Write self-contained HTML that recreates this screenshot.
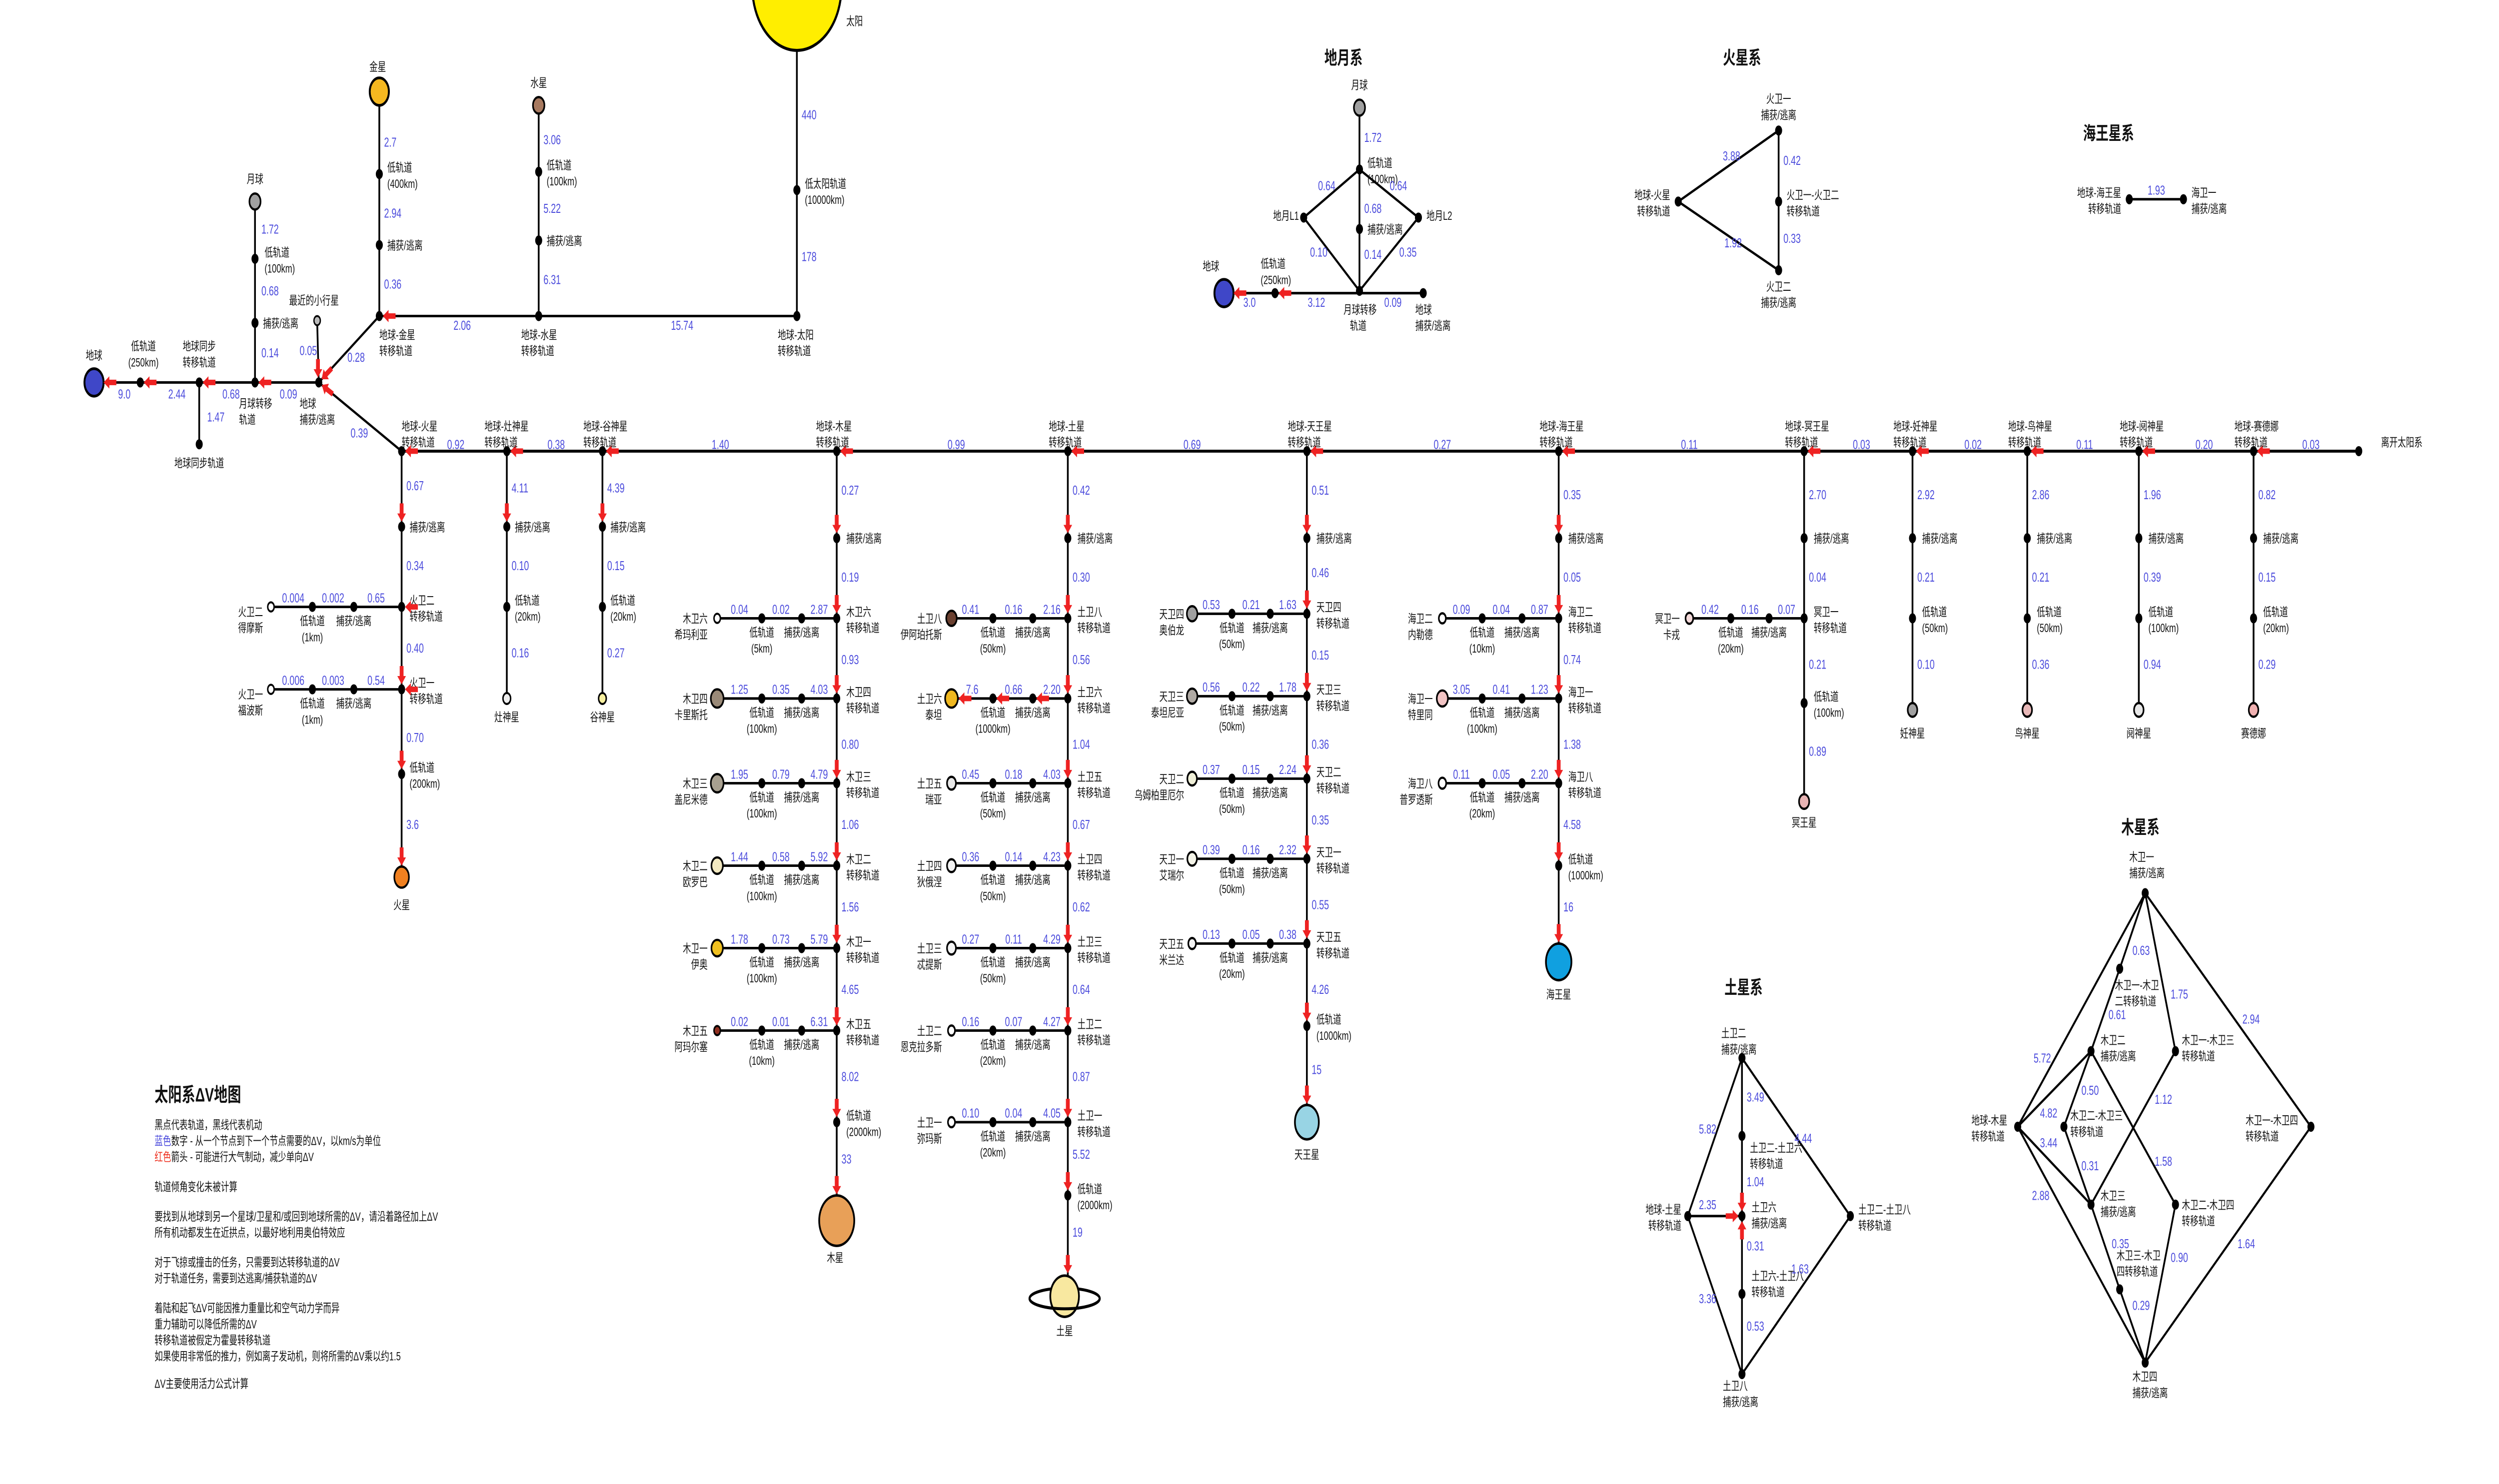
<!DOCTYPE html>
<html><head><meta charset="utf-8">
<style>
html,body{margin:0;padding:0;background:#fff;overflow:hidden;width:100%;height:100%;}
svg{display:block;width:100vw;height:100vh;}
text{font-family:"Liberation Sans","Noto Sans CJK SC",sans-serif;font-size:5.2px;fill:#111;}
.n{fill:#4b4bdc;font-size:5.6px;}
.m{text-anchor:middle;}
.e{text-anchor:end;}
.h{font-size:8px;font-weight:bold;}
line,polyline{stroke:#000;stroke-width:1.1;fill:none;}
.d{fill:#000;}
</style></head><body>
<svg viewBox="0 0 1568 648" preserveAspectRatio="none" xmlns="http://www.w3.org/2000/svg">
<defs>
<polygon id="a" points="0,0 3.6,-2.7 3.6,-1.2 8,-1.2 8,1.2 3.6,1.2 3.6,2.7" fill="#ee2222"/>
</defs>

<!-- ============ EARTH AREA ============ -->
<line x1="59" y1="167" x2="200" y2="167"/>
<line x1="125" y1="167" x2="125" y2="194"/>
<line x1="160" y1="88" x2="160" y2="167"/>
<line x1="199" y1="140" x2="200" y2="167"/>
<line x1="200" y1="167" x2="238" y2="138"/>
<line x1="200" y1="167" x2="252" y2="197"/>
<circle cx="59" cy="167" r="6" fill="#3f47c8" stroke="#000" stroke-width="1.2"/>
<text x="59" y="157" class="m">地球</text>
<circle cx="88" cy="167" r="2.2" class="d"/><circle cx="125" cy="167" r="2.2" class="d"/><circle cx="125" cy="194" r="2.2" class="d"/>
<circle cx="160" cy="167" r="2.2" class="d"/><circle cx="160" cy="141" r="2.2" class="d"/><circle cx="160" cy="113" r="2.2" class="d"/>
<circle cx="160" cy="88" r="3.5" fill="#a0a0a0" stroke="#000" stroke-width="1"/>
<circle cx="200" cy="167" r="2.2" class="d"/>
<circle cx="199" cy="140" r="2" fill="#bbb" stroke="#000" stroke-width="0.8"/>
<text x="90" y="153" class="m">低轨道</text><text x="90" y="160" class="m">(250km)</text>
<text x="125" y="153" class="m">地球同步</text><text x="125" y="160" class="m">转移轨道</text>
<text x="125" y="204" class="m">地球同步轨道</text>
<text x="150" y="178">月球转移</text><text x="150" y="185">轨道</text>
<text x="165" y="143">捕获/逃离</text>
<text x="166" y="112">低轨道</text><text x="166" y="119">(100km)</text>
<text x="160" y="80" class="m">月球</text>
<text x="197" y="133" class="m">最近的小行星</text>
<text x="188" y="178">地球</text><text x="188" y="185">捕获/逃离</text>
<text x="78" y="174" class="n m">9.0</text><text x="111" y="174" class="n m">2.44</text><text x="145" y="174" class="n m">0.68</text>
<text x="181" y="174" class="n m">0.09</text><text x="130" y="184" class="n">1.47</text>
<text x="164" y="102" class="n">1.72</text><text x="164" y="129" class="n">0.68</text><text x="164" y="156" class="n">0.14</text>
<text x="188" y="155" class="n">0.05</text><text x="218" y="158" class="n">0.28</text><text x="220" y="191" class="n">0.39</text>
<use href="#a" transform="translate(65,167)"/><use href="#a" transform="translate(90.2,167)"/><use href="#a" transform="translate(127.2,167)"/>
<use href="#a" transform="translate(162.2,167)"/><use href="#a" transform="translate(199.5,164.8) rotate(-90)"/>
<use href="#a" transform="translate(201.8,165.6) rotate(-37)"/><use href="#a" transform="translate(201.9,168.1) rotate(30)"/>

<!-- Venus -->
<line x1="238" y1="40" x2="238" y2="138"/>
<line x1="238" y1="138" x2="500" y2="138"/>
<circle cx="238" cy="40" r="6" fill="#f5b820" stroke="#000" stroke-width="1.2"/>
<text x="237" y="31" class="m">金星</text>
<circle cx="238" cy="76" r="2.2" class="d"/><circle cx="238" cy="107" r="2.2" class="d"/><circle cx="238" cy="138" r="2.2" class="d"/>
<text x="243" y="75">低轨道</text><text x="243" y="82">(400km)</text><text x="243" y="109">捕获/逃离</text>
<text x="238" y="148">地球-金星</text><text x="238" y="155">转移轨道</text>
<text x="241" y="64" class="n">2.7</text><text x="241" y="95" class="n">2.94</text><text x="241" y="126" class="n">0.36</text>
<use href="#a" transform="translate(240.2,138)"/>
<!-- Mercury -->
<line x1="338" y1="46" x2="338" y2="138"/>
<circle cx="338" cy="46" r="3.6" fill="#a87a60" stroke="#000" stroke-width="1"/>
<text x="338" y="38" class="m">水星</text>
<circle cx="338" cy="75" r="2.2" class="d"/><circle cx="338" cy="105" r="2.2" class="d"/><circle cx="338" cy="138" r="2.2" class="d"/>
<text x="343" y="74">低轨道</text><text x="343" y="81">(100km)</text><text x="343" y="107">捕获/逃离</text>
<text x="327" y="148">地球-水星</text><text x="327" y="155">转移轨道</text>
<text x="341" y="63" class="n">3.06</text><text x="341" y="93" class="n">5.22</text><text x="341" y="124" class="n">6.31</text>
<text x="290" y="144" class="n m">2.06</text><text x="428" y="144" class="n m">15.74</text>
<!-- Sun -->
<line x1="500" y1="10" x2="500" y2="138"/>
<circle cx="500" cy="-6" r="28" fill="#ffee00" stroke="#000" stroke-width="1.3"/>
<text x="531" y="11">太阳</text>
<circle cx="500" cy="83" r="2.2" class="d"/><circle cx="500" cy="138" r="2.2" class="d"/>
<text x="505" y="82">低太阳轨道</text><text x="505" y="89">(10000km)</text>
<text x="488" y="148">地球-太阳</text><text x="488" y="155">转移轨道</text>
<text x="503" y="52" class="n">440</text><text x="503" y="114" class="n">178</text>

<!-- ============ MAIN LINE ============ -->
<line x1="252" y1="197" x2="1480" y2="197" style="stroke-width:1.3"/>
<g>
<circle cx="252" cy="197" r="2.2" class="d"/><circle cx="318" cy="197" r="2.2" class="d"/><circle cx="378" cy="197" r="2.2" class="d"/>
<circle cx="525" cy="197" r="2.2" class="d"/><circle cx="670" cy="197" r="2.2" class="d"/><circle cx="820" cy="197" r="2.2" class="d"/>
<circle cx="978" cy="197" r="2.2" class="d"/><circle cx="1132" cy="197" r="2.2" class="d"/><circle cx="1200" cy="197" r="2.2" class="d"/>
<circle cx="1272" cy="197" r="2.2" class="d"/><circle cx="1342" cy="197" r="2.2" class="d"/><circle cx="1414" cy="197" r="2.2" class="d"/>
<circle cx="1480" cy="197" r="2.2" class="d"/>
</g>
<g>
<use href="#a" transform="translate(254.2,197)"/><use href="#a" transform="translate(320.2,197)"/><use href="#a" transform="translate(380.2,197)"/>
<use href="#a" transform="translate(527.2,197)"/><use href="#a" transform="translate(672.2,197)"/><use href="#a" transform="translate(822.2,197)"/>
<use href="#a" transform="translate(980.2,197)"/><use href="#a" transform="translate(1134.2,197)"/><use href="#a" transform="translate(1202.2,197)"/>
<use href="#a" transform="translate(1274.2,197)"/><use href="#a" transform="translate(1344.2,197)"/><use href="#a" transform="translate(1416.2,197)"/>
</g>
<text x="252" y="188">地球-火星</text><text x="252" y="195">转移轨道</text>
<text x="304" y="188">地球-灶神星</text><text x="304" y="195">转移轨道</text>
<text x="366" y="188">地球-谷神星</text><text x="366" y="195">转移轨道</text>
<text x="512" y="188">地球-木星</text><text x="512" y="195">转移轨道</text>
<text x="658" y="188">地球-土星</text><text x="658" y="195">转移轨道</text>
<text x="808" y="188">地球-天王星</text><text x="808" y="195">转移轨道</text>
<text x="966" y="188">地球-海王星</text><text x="966" y="195">转移轨道</text>
<text x="1120" y="188">地球-冥王星</text><text x="1120" y="195">转移轨道</text>
<text x="1188" y="188">地球-妊神星</text><text x="1188" y="195">转移轨道</text>
<text x="1260" y="188">地球-鸟神星</text><text x="1260" y="195">转移轨道</text>
<text x="1330" y="188">地球-阋神星</text><text x="1330" y="195">转移轨道</text>
<text x="1402" y="188">地球-赛德娜</text><text x="1402" y="195">转移轨道</text>
<text x="1494" y="195">离开太阳系</text>
<text x="286" y="196" class="n m">0.92</text><text x="349" y="196" class="n m">0.38</text><text x="452" y="196" class="n m">1.40</text>
<text x="600" y="196" class="n m">0.99</text><text x="748" y="196" class="n m">0.69</text><text x="905" y="196" class="n m">0.27</text>
<text x="1060" y="196" class="n m">0.11</text><text x="1168" y="196" class="n m">0.03</text><text x="1238" y="196" class="n m">0.02</text>
<text x="1308" y="196" class="n m">0.11</text><text x="1383" y="196" class="n m">0.20</text><text x="1450" y="196" class="n m">0.03</text>

<!-- ============ MARS ============ -->
<line x1="252" y1="197" x2="252" y2="383"/>
<line x1="170" y1="265" x2="252" y2="265"/><line x1="170" y1="301" x2="252" y2="301"/>
<circle cx="252" cy="230" r="2.2" class="d"/><circle cx="252" cy="265" r="2.2" class="d"/><circle cx="252" cy="301" r="2.2" class="d"/><circle cx="252" cy="338" r="2.2" class="d"/>
<circle cx="252" cy="383" r="4.6" fill="#f08020" stroke="#000" stroke-width="1"/>
<text x="252" y="397" class="m">火星</text>
<text x="257" y="232">捕获/逃离</text>
<text x="257" y="264">火卫二</text><text x="257" y="271">转移轨道</text>
<text x="257" y="300">火卫一</text><text x="257" y="307">转移轨道</text>
<text x="257" y="337">低轨道</text><text x="257" y="344">(200km)</text>
<text x="255" y="214" class="n">0.67</text><text x="255" y="249" class="n">0.34</text><text x="255" y="285" class="n">0.40</text>
<text x="255" y="324" class="n">0.70</text><text x="255" y="362" class="n">3.6</text>
<use href="#a" transform="translate(252,227.8) rotate(-90)"/><use href="#a" transform="translate(252,298.8) rotate(-90)"/>
<use href="#a" transform="translate(252,335.8) rotate(-90)"/><use href="#a" transform="translate(252,378) rotate(-90)"/>
<use href="#a" transform="translate(254.2,265)"/><use href="#a" transform="translate(254.2,301)"/>
<circle cx="170" cy="265" r="2" fill="#fff" stroke="#000" stroke-width="0.9"/><circle cx="170" cy="301" r="2" fill="#fff" stroke="#000" stroke-width="0.9"/>
<circle cx="196" cy="265" r="2.2" class="d"/><circle cx="222" cy="265" r="2.2" class="d"/><circle cx="196" cy="301" r="2.2" class="d"/><circle cx="222" cy="301" r="2.2" class="d"/>
<text x="165" y="269" class="e">火卫二</text><text x="165" y="276" class="e">得摩斯</text>
<text x="165" y="305" class="e">火卫一</text><text x="165" y="312" class="e">福波斯</text>
<text x="196" y="273" class="m">低轨道</text><text x="196" y="280" class="m">(1km)</text><text x="222" y="273" class="m">捕获/逃离</text>
<text x="196" y="309" class="m">低轨道</text><text x="196" y="316" class="m">(1km)</text><text x="222" y="309" class="m">捕获/逃离</text>
<text x="184" y="263" class="n m">0.004</text><text x="209" y="263" class="n m">0.002</text><text x="236" y="263" class="n m">0.65</text>
<text x="184" y="299" class="n m">0.006</text><text x="209" y="299" class="n m">0.003</text><text x="236" y="299" class="n m">0.54</text>

<!-- Vesta / Ceres -->
<line x1="318" y1="197" x2="318" y2="305"/><line x1="378" y1="197" x2="378" y2="305"/>
<circle cx="318" cy="230" r="2.2" class="d"/><circle cx="318" cy="265" r="2.2" class="d"/>
<circle cx="378" cy="230" r="2.2" class="d"/><circle cx="378" cy="265" r="2.2" class="d"/>
<circle cx="318" cy="305" r="2.4" fill="#eee" stroke="#000" stroke-width="0.9"/>
<circle cx="378" cy="305" r="2.4" fill="#f8f0a0" stroke="#000" stroke-width="0.9"/>
<use href="#a" transform="translate(318,227.8) rotate(-90)"/><use href="#a" transform="translate(378,227.8) rotate(-90)"/>
<text x="323" y="232">捕获/逃离</text><text x="323" y="264">低轨道</text><text x="323" y="271">(20km)</text>
<text x="383" y="232">捕获/逃离</text><text x="383" y="264">低轨道</text><text x="383" y="271">(20km)</text>
<text x="318" y="315" class="m">灶神星</text><text x="378" y="315" class="m">谷神星</text>
<text x="321" y="215" class="n">4.11</text><text x="321" y="249" class="n">0.10</text><text x="321" y="287" class="n">0.16</text>
<text x="381" y="215" class="n">4.39</text><text x="381" y="249" class="n">0.15</text><text x="381" y="287" class="n">0.27</text>

<!-- ============ JUPITER ============ -->
<line x1="525" y1="197" x2="525" y2="525"/>
<circle cx="525" cy="533" r="11" fill="#e8a058" stroke="#000" stroke-width="1.1"/>
<text x="524" y="551" class="m">木星</text>
<g>
<circle cx="525" cy="235" r="2.2" class="d"/><circle cx="525" cy="270" r="2.2" class="d"/><circle cx="525" cy="305" r="2.2" class="d"/>
<circle cx="525" cy="342" r="2.2" class="d"/><circle cx="525" cy="378" r="2.2" class="d"/><circle cx="525" cy="414" r="2.2" class="d"/>
<circle cx="525" cy="450" r="2.2" class="d"/><circle cx="525" cy="490" r="2.2" class="d"/>
</g>
<g>
<use href="#a" transform="translate(525,232.8) rotate(-90)"/><use href="#a" transform="translate(525,267.8) rotate(-90)"/><use href="#a" transform="translate(525,302.8) rotate(-90)"/>
<use href="#a" transform="translate(525,339.8) rotate(-90)"/><use href="#a" transform="translate(525,375.8) rotate(-90)"/><use href="#a" transform="translate(525,411.8) rotate(-90)"/>
<use href="#a" transform="translate(525,447.8) rotate(-90)"/><use href="#a" transform="translate(525,487.8) rotate(-90)"/><use href="#a" transform="translate(525,521.5) rotate(-90)"/>
</g>
<text x="531" y="237">捕获/逃离</text>
<text x="531" y="269">木卫六</text><text x="531" y="276">转移轨道</text>
<text x="531" y="304">木卫四</text><text x="531" y="311">转移轨道</text>
<text x="531" y="341">木卫三</text><text x="531" y="348">转移轨道</text>
<text x="531" y="377">木卫二</text><text x="531" y="384">转移轨道</text>
<text x="531" y="413">木卫一</text><text x="531" y="420">转移轨道</text>
<text x="531" y="449">木卫五</text><text x="531" y="456">转移轨道</text>
<text x="531" y="489">低轨道</text><text x="531" y="496">(2000km)</text>
<text x="528" y="216" class="n">0.27</text><text x="528" y="254" class="n">0.19</text><text x="528" y="290" class="n">0.93</text>
<text x="528" y="327" class="n">0.80</text><text x="528" y="362" class="n">1.06</text><text x="528" y="398" class="n">1.56</text>
<text x="528" y="434" class="n">4.65</text><text x="528" y="472" class="n">8.02</text><text x="528" y="508" class="n">33</text>
<g>
<line x1="450" y1="270" x2="525" y2="270"/><line x1="450" y1="305" x2="525" y2="305"/><line x1="450" y1="342" x2="525" y2="342"/>
<line x1="450" y1="378" x2="525" y2="378"/><line x1="450" y1="414" x2="525" y2="414"/><line x1="450" y1="450" x2="525" y2="450"/>
<circle cx="450" cy="270" r="2" fill="#fff" stroke="#000" stroke-width="0.9"/>
<circle cx="450" cy="305" r="4" fill="#9a8a78" stroke="#000" stroke-width="1"/>
<circle cx="450" cy="342" r="4" fill="#a8a090" stroke="#000" stroke-width="1"/>
<circle cx="450" cy="378" r="3.6" fill="#f2e8c0" stroke="#000" stroke-width="1"/>
<circle cx="450" cy="414" r="3.6" fill="#f0c020" stroke="#000" stroke-width="1"/>
<circle cx="450" cy="450" r="2" fill="#903020" stroke="#000" stroke-width="0.9"/>
<circle cx="478" cy="270" r="2.2" class="d"/><circle cx="503" cy="270" r="2.2" class="d"/>
<circle cx="478" cy="305" r="2.2" class="d"/><circle cx="503" cy="305" r="2.2" class="d"/>
<circle cx="478" cy="342" r="2.2" class="d"/><circle cx="503" cy="342" r="2.2" class="d"/>
<circle cx="478" cy="378" r="2.2" class="d"/><circle cx="503" cy="378" r="2.2" class="d"/>
<circle cx="478" cy="414" r="2.2" class="d"/><circle cx="503" cy="414" r="2.2" class="d"/>
<circle cx="478" cy="450" r="2.2" class="d"/><circle cx="503" cy="450" r="2.2" class="d"/>
</g>
<text x="444" y="272" class="e">木卫六</text><text x="444" y="279" class="e">希玛利亚</text>
<text x="444" y="307" class="e">木卫四</text><text x="444" y="314" class="e">卡里斯托</text>
<text x="444" y="344" class="e">木卫三</text><text x="444" y="351" class="e">盖尼米德</text>
<text x="444" y="380" class="e">木卫二</text><text x="444" y="387" class="e">欧罗巴</text>
<text x="444" y="416" class="e">木卫一</text><text x="444" y="423" class="e">伊奥</text>
<text x="444" y="452" class="e">木卫五</text><text x="444" y="459" class="e">阿玛尔塞</text>
<text x="478" y="278" class="m">低轨道</text><text x="478" y="285" class="m">(5km)</text><text x="503" y="278" class="m">捕获/逃离</text>
<text x="478" y="313" class="m">低轨道</text><text x="478" y="320" class="m">(100km)</text><text x="503" y="313" class="m">捕获/逃离</text>
<text x="478" y="350" class="m">低轨道</text><text x="478" y="357" class="m">(100km)</text><text x="503" y="350" class="m">捕获/逃离</text>
<text x="478" y="386" class="m">低轨道</text><text x="478" y="393" class="m">(100km)</text><text x="503" y="386" class="m">捕获/逃离</text>
<text x="478" y="422" class="m">低轨道</text><text x="478" y="429" class="m">(100km)</text><text x="503" y="422" class="m">捕获/逃离</text>
<text x="478" y="458" class="m">低轨道</text><text x="478" y="465" class="m">(10km)</text><text x="503" y="458" class="m">捕获/逃离</text>
<text x="464" y="268" class="n m">0.04</text><text x="490" y="268" class="n m">0.02</text><text x="514" y="268" class="n m">2.87</text>
<text x="464" y="303" class="n m">1.25</text><text x="490" y="303" class="n m">0.35</text><text x="514" y="303" class="n m">4.03</text>
<text x="464" y="340" class="n m">1.95</text><text x="490" y="340" class="n m">0.79</text><text x="514" y="340" class="n m">4.79</text>
<text x="464" y="376" class="n m">1.44</text><text x="490" y="376" class="n m">0.58</text><text x="514" y="376" class="n m">5.92</text>
<text x="464" y="412" class="n m">1.78</text><text x="490" y="412" class="n m">0.73</text><text x="514" y="412" class="n m">5.79</text>
<text x="464" y="448" class="n m">0.02</text><text x="490" y="448" class="n m">0.01</text><text x="514" y="448" class="n m">6.31</text>

<!-- ============ SATURN ============ -->
<line x1="670" y1="197" x2="670" y2="558"/>
<ellipse cx="668" cy="567" rx="22" ry="4.5" fill="none" stroke="#000" stroke-width="1.3"/>
<circle cx="668" cy="566" r="9" fill="#f8e8a0" stroke="#000" stroke-width="1.1"/>
<path d="M646,567 A22,4.5 0 0 0 690,567" fill="none" stroke="#000" stroke-width="1.3"/>
<text x="668" y="583" class="m">土星</text>
<g>
<circle cx="670" cy="235" r="2.2" class="d"/><circle cx="670" cy="270" r="2.2" class="d"/><circle cx="670" cy="305" r="2.2" class="d"/>
<circle cx="670" cy="342" r="2.2" class="d"/><circle cx="670" cy="378" r="2.2" class="d"/><circle cx="670" cy="414" r="2.2" class="d"/>
<circle cx="670" cy="450" r="2.2" class="d"/><circle cx="670" cy="490" r="2.2" class="d"/><circle cx="670" cy="522" r="2.2" class="d"/>
</g>
<g>
<use href="#a" transform="translate(670,232.8) rotate(-90)"/><use href="#a" transform="translate(670,267.8) rotate(-90)"/><use href="#a" transform="translate(670,302.8) rotate(-90)"/>
<use href="#a" transform="translate(670,339.8) rotate(-90)"/><use href="#a" transform="translate(670,375.8) rotate(-90)"/><use href="#a" transform="translate(670,411.8) rotate(-90)"/>
<use href="#a" transform="translate(670,447.8) rotate(-90)"/><use href="#a" transform="translate(670,487.8) rotate(-90)"/><use href="#a" transform="translate(670,519.8) rotate(-90)"/>
<use href="#a" transform="translate(670,556) rotate(-90)"/>
</g>
<text x="676" y="237">捕获/逃离</text>
<text x="676" y="269">土卫八</text><text x="676" y="276">转移轨道</text>
<text x="676" y="304">土卫六</text><text x="676" y="311">转移轨道</text>
<text x="676" y="341">土卫五</text><text x="676" y="348">转移轨道</text>
<text x="676" y="377">土卫四</text><text x="676" y="384">转移轨道</text>
<text x="676" y="413">土卫三</text><text x="676" y="420">转移轨道</text>
<text x="676" y="449">土卫二</text><text x="676" y="456">转移轨道</text>
<text x="676" y="489">土卫一</text><text x="676" y="496">转移轨道</text>
<text x="676" y="521">低轨道</text><text x="676" y="528">(2000km)</text>
<text x="673" y="216" class="n">0.42</text><text x="673" y="254" class="n">0.30</text><text x="673" y="290" class="n">0.56</text>
<text x="673" y="327" class="n">1.04</text><text x="673" y="362" class="n">0.67</text><text x="673" y="398" class="n">0.62</text>
<text x="673" y="434" class="n">0.64</text><text x="673" y="472" class="n">0.87</text><text x="673" y="506" class="n">5.52</text>
<text x="673" y="540" class="n">19</text>
<g>
<line x1="597" y1="270" x2="670" y2="270"/><line x1="597" y1="305" x2="670" y2="305"/><line x1="597" y1="342" x2="670" y2="342"/>
<line x1="597" y1="378" x2="670" y2="378"/><line x1="597" y1="414" x2="670" y2="414"/><line x1="597" y1="450" x2="670" y2="450"/>
<line x1="597" y1="490" x2="670" y2="490"/>
<circle cx="597" cy="270" r="3.3" fill="#6a4030" stroke="#000" stroke-width="1"/>
<circle cx="597" cy="305" r="4" fill="#f0b820" stroke="#000" stroke-width="1"/>
<circle cx="597" cy="342" r="2.8" fill="#e8e8e8" stroke="#000" stroke-width="1"/>
<circle cx="597" cy="378" r="2.8" fill="#f4f4f4" stroke="#000" stroke-width="1"/>
<circle cx="597" cy="414" r="2.8" fill="#f4f4f4" stroke="#000" stroke-width="1"/>
<circle cx="597" cy="450" r="2.2" fill="#fff" stroke="#000" stroke-width="1"/>
<circle cx="597" cy="490" r="2.2" fill="#fff" stroke="#000" stroke-width="1"/>
<circle cx="623" cy="270" r="2.2" class="d"/><circle cx="648" cy="270" r="2.2" class="d"/>
<circle cx="623" cy="305" r="2.2" class="d"/><circle cx="648" cy="305" r="2.2" class="d"/>
<circle cx="623" cy="342" r="2.2" class="d"/><circle cx="648" cy="342" r="2.2" class="d"/>
<circle cx="623" cy="378" r="2.2" class="d"/><circle cx="648" cy="378" r="2.2" class="d"/>
<circle cx="623" cy="414" r="2.2" class="d"/><circle cx="648" cy="414" r="2.2" class="d"/>
<circle cx="623" cy="450" r="2.2" class="d"/><circle cx="648" cy="450" r="2.2" class="d"/>
<circle cx="623" cy="490" r="2.2" class="d"/><circle cx="648" cy="490" r="2.2" class="d"/>
</g>
<use href="#a" transform="translate(601.5,305)"/><use href="#a" transform="translate(625.2,305)"/><use href="#a" transform="translate(650.2,305)"/>
<text x="591" y="272" class="e">土卫八</text><text x="591" y="279" class="e">伊阿珀托斯</text>
<text x="591" y="307" class="e">土卫六</text><text x="591" y="314" class="e">泰坦</text>
<text x="591" y="344" class="e">土卫五</text><text x="591" y="351" class="e">瑞亚</text>
<text x="591" y="380" class="e">土卫四</text><text x="591" y="387" class="e">狄俄涅</text>
<text x="591" y="416" class="e">土卫三</text><text x="591" y="423" class="e">忒提斯</text>
<text x="591" y="452" class="e">土卫二</text><text x="591" y="459" class="e">恩克拉多斯</text>
<text x="591" y="492" class="e">土卫一</text><text x="591" y="499" class="e">弥玛斯</text>
<text x="623" y="278" class="m">低轨道</text><text x="623" y="285" class="m">(50km)</text><text x="648" y="278" class="m">捕获/逃离</text>
<text x="623" y="313" class="m">低轨道</text><text x="623" y="320" class="m">(1000km)</text><text x="648" y="313" class="m">捕获/逃离</text>
<text x="623" y="350" class="m">低轨道</text><text x="623" y="357" class="m">(50km)</text><text x="648" y="350" class="m">捕获/逃离</text>
<text x="623" y="386" class="m">低轨道</text><text x="623" y="393" class="m">(50km)</text><text x="648" y="386" class="m">捕获/逃离</text>
<text x="623" y="422" class="m">低轨道</text><text x="623" y="429" class="m">(50km)</text><text x="648" y="422" class="m">捕获/逃离</text>
<text x="623" y="458" class="m">低轨道</text><text x="623" y="465" class="m">(20km)</text><text x="648" y="458" class="m">捕获/逃离</text>
<text x="623" y="498" class="m">低轨道</text><text x="623" y="505" class="m">(20km)</text><text x="648" y="498" class="m">捕获/逃离</text>
<text x="609" y="268" class="n m">0.41</text><text x="636" y="268" class="n m">0.16</text><text x="660" y="268" class="n m">2.16</text>
<text x="610" y="303" class="n m">7.6</text><text x="636" y="303" class="n m">0.66</text><text x="660" y="303" class="n m">2.20</text>
<text x="609" y="340" class="n m">0.45</text><text x="636" y="340" class="n m">0.18</text><text x="660" y="340" class="n m">4.03</text>
<text x="609" y="376" class="n m">0.36</text><text x="636" y="376" class="n m">0.14</text><text x="660" y="376" class="n m">4.23</text>
<text x="609" y="412" class="n m">0.27</text><text x="636" y="412" class="n m">0.11</text><text x="660" y="412" class="n m">4.29</text>
<text x="609" y="448" class="n m">0.16</text><text x="636" y="448" class="n m">0.07</text><text x="660" y="448" class="n m">4.27</text>
<text x="609" y="488" class="n m">0.10</text><text x="636" y="488" class="n m">0.04</text><text x="660" y="488" class="n m">4.05</text>

<!-- ============ URANUS ============ -->
<line x1="820" y1="197" x2="820" y2="490"/>
<circle cx="820" cy="490" r="7.5" fill="#98d4e4" stroke="#000" stroke-width="1.1"/>
<text x="820" y="506" class="m">天王星</text>
<circle cx="820" cy="235" r="2.2" class="d"/><circle cx="820" cy="268" r="2.2" class="d"/><circle cx="820" cy="304" r="2.2" class="d"/>
<circle cx="820" cy="340" r="2.2" class="d"/><circle cx="820" cy="375" r="2.2" class="d"/><circle cx="820" cy="412" r="2.2" class="d"/>
<circle cx="820" cy="448" r="2.2" class="d"/>
<use href="#a" transform="translate(820,232.8) rotate(-90)"/><use href="#a" transform="translate(820,265.8) rotate(-90)"/><use href="#a" transform="translate(820,301.8) rotate(-90)"/>
<use href="#a" transform="translate(820,337.8) rotate(-90)"/><use href="#a" transform="translate(820,372.8) rotate(-90)"/><use href="#a" transform="translate(820,409.8) rotate(-90)"/>
<use href="#a" transform="translate(820,445.8) rotate(-90)"/><use href="#a" transform="translate(820,482) rotate(-90)"/>
<text x="826" y="237">捕获/逃离</text>
<text x="826" y="267">天卫四</text><text x="826" y="274">转移轨道</text>
<text x="826" y="303">天卫三</text><text x="826" y="310">转移轨道</text>
<text x="826" y="339">天卫二</text><text x="826" y="346">转移轨道</text>
<text x="826" y="374">天卫一</text><text x="826" y="381">转移轨道</text>
<text x="826" y="411">天卫五</text><text x="826" y="418">转移轨道</text>
<text x="826" y="447">低轨道</text><text x="826" y="454">(1000km)</text>
<text x="823" y="216" class="n">0.51</text><text x="823" y="252" class="n">0.46</text><text x="823" y="288" class="n">0.15</text>
<text x="823" y="327" class="n">0.36</text><text x="823" y="360" class="n">0.35</text><text x="823" y="397" class="n">0.55</text>
<text x="823" y="434" class="n">4.26</text><text x="823" y="469" class="n">15</text>
<g>
<line x1="748" y1="268" x2="820" y2="268"/><line x1="748" y1="304" x2="820" y2="304"/><line x1="748" y1="340" x2="820" y2="340"/>
<line x1="748" y1="375" x2="820" y2="375"/><line x1="748" y1="412" x2="820" y2="412"/>
<circle cx="748" cy="268" r="3.3" fill="#a0a0a0" stroke="#000" stroke-width="1"/>
<circle cx="748" cy="304" r="3.3" fill="#b0aaa4" stroke="#000" stroke-width="1"/>
<circle cx="748" cy="340" r="3" fill="#f0f0d8" stroke="#000" stroke-width="1"/>
<circle cx="748" cy="375" r="3" fill="#f4f4e8" stroke="#000" stroke-width="1"/>
<circle cx="748" cy="412" r="2.4" fill="#f4f4f4" stroke="#000" stroke-width="1"/>
<circle cx="773" cy="268" r="2.2" class="d"/><circle cx="797" cy="268" r="2.2" class="d"/>
<circle cx="773" cy="304" r="2.2" class="d"/><circle cx="797" cy="304" r="2.2" class="d"/>
<circle cx="773" cy="340" r="2.2" class="d"/><circle cx="797" cy="340" r="2.2" class="d"/>
<circle cx="773" cy="375" r="2.2" class="d"/><circle cx="797" cy="375" r="2.2" class="d"/>
<circle cx="773" cy="412" r="2.2" class="d"/><circle cx="797" cy="412" r="2.2" class="d"/>
</g>
<text x="743" y="270" class="e">天卫四</text><text x="743" y="277" class="e">奥伯龙</text>
<text x="743" y="306" class="e">天卫三</text><text x="743" y="313" class="e">泰坦尼亚</text>
<text x="743" y="342" class="e">天卫二</text><text x="743" y="349" class="e">乌姆柏里厄尔</text>
<text x="743" y="377" class="e">天卫一</text><text x="743" y="384" class="e">艾瑞尔</text>
<text x="743" y="414" class="e">天卫五</text><text x="743" y="421" class="e">米兰达</text>
<text x="773" y="276" class="m">低轨道</text><text x="773" y="283" class="m">(50km)</text><text x="797" y="276" class="m">捕获/逃离</text>
<text x="773" y="312" class="m">低轨道</text><text x="773" y="319" class="m">(50km)</text><text x="797" y="312" class="m">捕获/逃离</text>
<text x="773" y="348" class="m">低轨道</text><text x="773" y="355" class="m">(50km)</text><text x="797" y="348" class="m">捕获/逃离</text>
<text x="773" y="383" class="m">低轨道</text><text x="773" y="390" class="m">(50km)</text><text x="797" y="383" class="m">捕获/逃离</text>
<text x="773" y="420" class="m">低轨道</text><text x="773" y="427" class="m">(20km)</text><text x="797" y="420" class="m">捕获/逃离</text>
<text x="760" y="266" class="n m">0.53</text><text x="785" y="266" class="n m">0.21</text><text x="808" y="266" class="n m">1.63</text>
<text x="760" y="302" class="n m">0.56</text><text x="785" y="302" class="n m">0.22</text><text x="808" y="302" class="n m">1.78</text>
<text x="760" y="338" class="n m">0.37</text><text x="785" y="338" class="n m">0.15</text><text x="808" y="338" class="n m">2.24</text>
<text x="760" y="373" class="n m">0.39</text><text x="785" y="373" class="n m">0.16</text><text x="808" y="373" class="n m">2.32</text>
<text x="760" y="410" class="n m">0.13</text><text x="785" y="410" class="n m">0.05</text><text x="808" y="410" class="n m">0.38</text>

<!-- ============ NEPTUNE ============ -->
<line x1="978" y1="197" x2="978" y2="420"/>
<circle cx="978" cy="420" r="8" fill="#10a0e0" stroke="#000" stroke-width="1.1"/>
<text x="978" y="436" class="m">海王星</text>
<circle cx="978" cy="235" r="2.2" class="d"/><circle cx="978" cy="270" r="2.2" class="d"/><circle cx="978" cy="305" r="2.2" class="d"/>
<circle cx="978" cy="342" r="2.2" class="d"/><circle cx="978" cy="378" r="2.2" class="d"/>
<use href="#a" transform="translate(978,232.8) rotate(-90)"/><use href="#a" transform="translate(978,267.8) rotate(-90)"/><use href="#a" transform="translate(978,302.8) rotate(-90)"/>
<use href="#a" transform="translate(978,339.8) rotate(-90)"/><use href="#a" transform="translate(978,375.8) rotate(-90)"/><use href="#a" transform="translate(978,411.5) rotate(-90)"/>
<text x="984" y="237">捕获/逃离</text>
<text x="984" y="269">海卫二</text><text x="984" y="276">转移轨道</text>
<text x="984" y="304">海卫一</text><text x="984" y="311">转移轨道</text>
<text x="984" y="341">海卫八</text><text x="984" y="348">转移轨道</text>
<text x="984" y="377">低轨道</text><text x="984" y="384">(1000km)</text>
<text x="981" y="218" class="n">0.35</text><text x="981" y="254" class="n">0.05</text><text x="981" y="290" class="n">0.74</text>
<text x="981" y="327" class="n">1.38</text><text x="981" y="362" class="n">4.58</text><text x="981" y="398" class="n">16</text>
<line x1="905" y1="270" x2="978" y2="270"/><line x1="905" y1="305" x2="978" y2="305"/><line x1="905" y1="342" x2="978" y2="342"/>
<circle cx="905" cy="270" r="2.2" fill="#fff" stroke="#000" stroke-width="1"/>
<circle cx="905" cy="305" r="3.5" fill="#f2c4c4" stroke="#000" stroke-width="1"/>
<circle cx="905" cy="342" r="2.4" fill="#fff" stroke="#000" stroke-width="1"/>
<circle cx="930" cy="270" r="2.2" class="d"/><circle cx="955" cy="270" r="2.2" class="d"/>
<circle cx="930" cy="305" r="2.2" class="d"/><circle cx="955" cy="305" r="2.2" class="d"/>
<circle cx="930" cy="342" r="2.2" class="d"/><circle cx="955" cy="342" r="2.2" class="d"/>
<text x="899" y="272" class="e">海卫二</text><text x="899" y="279" class="e">内勒德</text>
<text x="899" y="307" class="e">海卫一</text><text x="899" y="314" class="e">特里同</text>
<text x="899" y="344" class="e">海卫八</text><text x="899" y="351" class="e">普罗透斯</text>
<text x="930" y="278" class="m">低轨道</text><text x="930" y="285" class="m">(10km)</text><text x="955" y="278" class="m">捕获/逃离</text>
<text x="930" y="313" class="m">低轨道</text><text x="930" y="320" class="m">(100km)</text><text x="955" y="313" class="m">捕获/逃离</text>
<text x="930" y="350" class="m">低轨道</text><text x="930" y="357" class="m">(20km)</text><text x="955" y="350" class="m">捕获/逃离</text>
<text x="917" y="268" class="n m">0.09</text><text x="942" y="268" class="n m">0.04</text><text x="966" y="268" class="n m">0.87</text>
<text x="917" y="303" class="n m">3.05</text><text x="942" y="303" class="n m">0.41</text><text x="966" y="303" class="n m">1.23</text>
<text x="917" y="340" class="n m">0.11</text><text x="942" y="340" class="n m">0.05</text><text x="966" y="340" class="n m">2.20</text>

<!-- ============ PLUTO & TNOs ============ -->
<line x1="1132" y1="197" x2="1132" y2="350"/>
<circle cx="1132" cy="235" r="2.2" class="d"/><circle cx="1132" cy="270" r="2.2" class="d"/><circle cx="1132" cy="307" r="2.2" class="d"/>
<circle cx="1132" cy="350" r="3.2" fill="#e8b4b4" stroke="#000" stroke-width="1"/>
<text x="1132" y="361" class="m">冥王星</text>
<text x="1138" y="237">捕获/逃离</text>
<text x="1138" y="269">冥卫一</text><text x="1138" y="276">转移轨道</text>
<text x="1138" y="306">低轨道</text><text x="1138" y="313">(100km)</text>
<text x="1135" y="218" class="n">2.70</text><text x="1135" y="254" class="n">0.04</text><text x="1135" y="292" class="n">0.21</text><text x="1135" y="330" class="n">0.89</text>
<line x1="1060" y1="270" x2="1132" y2="270"/>
<circle cx="1060" cy="270" r="2.4" fill="#f4dada" stroke="#000" stroke-width="1"/>
<circle cx="1086" cy="270" r="2.2" class="d"/><circle cx="1110" cy="270" r="2.2" class="d"/>
<text x="1054" y="272" class="e">冥卫一</text><text x="1054" y="279" class="e">卡戎</text>
<text x="1086" y="278" class="m">低轨道</text><text x="1086" y="285" class="m">(20km)</text><text x="1110" y="278" class="m">捕获/逃离</text>
<text x="1073" y="268" class="n m">0.42</text><text x="1098" y="268" class="n m">0.16</text><text x="1121" y="268" class="n m">0.07</text>

<line x1="1200" y1="197" x2="1200" y2="310"/><line x1="1272" y1="197" x2="1272" y2="310"/>
<line x1="1342" y1="197" x2="1342" y2="310"/><line x1="1414" y1="197" x2="1414" y2="310"/>
<g>
<circle cx="1200" cy="235" r="2.2" class="d"/><circle cx="1200" cy="270" r="2.2" class="d"/>
<circle cx="1272" cy="235" r="2.2" class="d"/><circle cx="1272" cy="270" r="2.2" class="d"/>
<circle cx="1342" cy="235" r="2.2" class="d"/><circle cx="1342" cy="270" r="2.2" class="d"/>
<circle cx="1414" cy="235" r="2.2" class="d"/><circle cx="1414" cy="270" r="2.2" class="d"/>
<circle cx="1200" cy="310" r="3" fill="#a0a0a0" stroke="#000" stroke-width="1"/>
<circle cx="1272" cy="310" r="3" fill="#e8b8b8" stroke="#000" stroke-width="1"/>
<circle cx="1342" cy="310" r="3" fill="#e8e8e8" stroke="#000" stroke-width="1"/>
<circle cx="1414" cy="310" r="3" fill="#f0b0b0" stroke="#000" stroke-width="1"/>
</g>
<text x="1206" y="237">捕获/逃离</text><text x="1206" y="269">低轨道</text><text x="1206" y="276">(50km)</text>
<text x="1278" y="237">捕获/逃离</text><text x="1278" y="269">低轨道</text><text x="1278" y="276">(50km)</text>
<text x="1348" y="237">捕获/逃离</text><text x="1348" y="269">低轨道</text><text x="1348" y="276">(100km)</text>
<text x="1420" y="237">捕获/逃离</text><text x="1420" y="269">低轨道</text><text x="1420" y="276">(20km)</text>
<text x="1200" y="322" class="m">妊神星</text><text x="1272" y="322" class="m">鸟神星</text>
<text x="1342" y="322" class="m">阋神星</text><text x="1414" y="322" class="m">赛德娜</text>
<text x="1203" y="218" class="n">2.92</text><text x="1203" y="254" class="n">0.21</text><text x="1203" y="292" class="n">0.10</text>
<text x="1275" y="218" class="n">2.86</text><text x="1275" y="254" class="n">0.21</text><text x="1275" y="292" class="n">0.36</text>
<text x="1345" y="218" class="n">1.96</text><text x="1345" y="254" class="n">0.39</text><text x="1345" y="292" class="n">0.94</text>
<text x="1417" y="218" class="n">0.82</text><text x="1417" y="254" class="n">0.15</text><text x="1417" y="292" class="n">0.29</text>

<!-- ============ EARTH-MOON SYSTEM ============ -->
<text x="843" y="28" class="m h">地月系</text>
<line x1="853" y1="47" x2="853" y2="127"/>
<line x1="768" y1="128" x2="893" y2="128"/>
<line x1="853" y1="74" x2="818" y2="95"/><line x1="853" y1="74" x2="890" y2="95"/>
<line x1="818" y1="95" x2="853" y2="127"/><line x1="890" y1="95" x2="853" y2="127"/>
<circle cx="853" cy="47" r="3.5" fill="#a0a0a0" stroke="#000" stroke-width="1"/>
<text x="853" y="39" class="m">月球</text>
<circle cx="853" cy="74" r="2.2" class="d"/><circle cx="853" cy="100" r="2.2" class="d"/><circle cx="853" cy="127" r="2.2" class="d"/>
<circle cx="818" cy="95" r="2.2" class="d"/><circle cx="890" cy="95" r="2.2" class="d"/>
<circle cx="800" cy="128" r="2.2" class="d"/><circle cx="893" cy="128" r="2.2" class="d"/>
<circle cx="768" cy="128" r="6" fill="#3f47c8" stroke="#000" stroke-width="1.2"/>
<use href="#a" transform="translate(774,128)"/><use href="#a" transform="translate(802.2,128)"/>
<text x="858" y="73">低轨道</text><text x="858" y="80">(100km)</text>
<text x="858" y="102">捕获/逃离</text>
<text x="815" y="96" class="e">地月L1</text><text x="895" y="96">地月L2</text>
<text x="765" y="118" class="e">地球</text>
<text x="791" y="117">低轨道</text><text x="791" y="124">(250km)</text>
<text x="843" y="137">月球转移</text><text x="847" y="144">轨道</text>
<text x="888" y="137">地球</text><text x="888" y="144">捕获/逃离</text>
<text x="856" y="62" class="n">1.72</text><text x="827" y="83" class="n">0.64</text><text x="872" y="83" class="n">0.64</text>
<text x="856" y="93" class="n">0.68</text><text x="856" y="113" class="n">0.14</text>
<text x="822" y="112" class="n">0.10</text><text x="878" y="112" class="n">0.35</text>
<text x="784" y="134" class="n m">3.0</text><text x="826" y="134" class="n m">3.12</text><text x="874" y="134" class="n m">0.09</text>

<!-- ============ MARS SYSTEM ============ -->
<text x="1093" y="28" class="m h">火星系</text>
<line x1="1053" y1="88" x2="1116" y2="57"/><line x1="1053" y1="88" x2="1116" y2="118"/>
<line x1="1116" y1="57" x2="1116" y2="118"/>
<circle cx="1053" cy="88" r="2.2" class="d"/><circle cx="1116" cy="57" r="2.2" class="d"/>
<circle cx="1116" cy="88" r="2.2" class="d"/><circle cx="1116" cy="118" r="2.2" class="d"/>
<text x="1048" y="87" class="e">地球-火星</text><text x="1048" y="94" class="e">转移轨道</text>
<text x="1116" y="45" class="m">火卫一</text><text x="1116" y="52" class="m">捕获/逃离</text>
<text x="1121" y="87">火卫一-火卫二</text><text x="1121" y="94">转移轨道</text>
<text x="1116" y="127" class="m">火卫二</text><text x="1116" y="134" class="m">捕获/逃离</text>
<text x="1081" y="70" class="n">3.88</text><text x="1082" y="108" class="n">1.92</text>
<text x="1119" y="72" class="n">0.42</text><text x="1119" y="106" class="n">0.33</text>

<!-- ============ NEPTUNE SYSTEM ============ -->
<text x="1323" y="61" class="m h">海王星系</text>
<line x1="1336" y1="87" x2="1370" y2="87"/>
<circle cx="1336" cy="87" r="2.2" class="d"/><circle cx="1370" cy="87" r="2.2" class="d"/>
<text x="1331" y="86" class="e">地球-海王星</text><text x="1331" y="93" class="e">转移轨道</text>
<text x="1375" y="86">海卫一</text><text x="1375" y="93">捕获/逃离</text>
<text x="1353" y="85" class="n m">1.93</text>

<!-- ============ SATURN SYSTEM ============ -->
<text x="1094" y="434" class="m h">土星系</text>
<line x1="1093" y1="462" x2="1093" y2="600"/>
<line x1="1059" y1="531" x2="1093" y2="462"/><line x1="1059" y1="531" x2="1093" y2="600"/>
<line x1="1161" y1="531" x2="1093" y2="462"/><line x1="1161" y1="531" x2="1093" y2="600"/>
<line x1="1059" y1="531" x2="1093" y2="531"/>
<circle cx="1093" cy="462" r="2.2" class="d"/><circle cx="1093" cy="496" r="2.2" class="d"/><circle cx="1093" cy="531" r="2.2" class="d"/>
<circle cx="1093" cy="565" r="2.2" class="d"/><circle cx="1093" cy="600" r="2.2" class="d"/>
<circle cx="1059" cy="531" r="2.2" class="d"/><circle cx="1161" cy="531" r="2.2" class="d"/>
<use href="#a" transform="translate(1090.8,531) rotate(180)"/><use href="#a" transform="translate(1093,528.8) rotate(-90)"/><use href="#a" transform="translate(1093,533.2) rotate(90)"/>
<text x="1080" y="453">土卫二</text><text x="1080" y="460">捕获/逃离</text>
<text x="1098" y="503">土卫二-土卫六</text><text x="1098" y="510">转移轨道</text>
<text x="1099" y="529">土卫六</text><text x="1099" y="536">捕获/逃离</text>
<text x="1099" y="559">土卫六-土卫八</text><text x="1099" y="566">转移轨道</text>
<text x="1081" y="607">土卫八</text><text x="1081" y="614">捕获/逃离</text>
<text x="1055" y="530" class="e">地球-土星</text><text x="1055" y="537" class="e">转移轨道</text>
<text x="1166" y="530">土卫二-土卫八</text><text x="1166" y="537">转移轨道</text>
<text x="1066" y="495" class="n">5.82</text><text x="1096" y="481" class="n">3.49</text><text x="1126" y="499" class="n">4.44</text>
<text x="1096" y="518" class="n">1.04</text><text x="1066" y="528" class="n">2.35</text><text x="1096" y="546" class="n">0.31</text>
<text x="1124" y="556" class="n">1.63</text><text x="1066" y="569" class="n">3.36</text><text x="1096" y="581" class="n">0.53</text>

<!-- ============ JUPITER SYSTEM ============ -->
<text x="1343" y="364" class="m h">木星系</text>
<g>
<line x1="1346" y1="390" x2="1266" y2="492"/><line x1="1346" y1="390" x2="1330" y2="423"/><line x1="1330" y1="423" x2="1312" y2="459"/>
<line x1="1346" y1="390" x2="1365" y2="459"/><line x1="1346" y1="390" x2="1450" y2="492"/>
<line x1="1266" y1="492" x2="1312" y2="459"/><line x1="1266" y1="492" x2="1312" y2="526"/><line x1="1266" y1="492" x2="1346" y2="595"/>
<line x1="1312" y1="459" x2="1295" y2="492"/><line x1="1295" y1="492" x2="1312" y2="526"/>
<line x1="1312" y1="459" x2="1365" y2="526"/><line x1="1365" y1="459" x2="1312" y2="526"/>
<line x1="1312" y1="526" x2="1330" y2="563"/><line x1="1330" y1="563" x2="1346" y2="595"/>
<line x1="1365" y1="526" x2="1346" y2="595"/><line x1="1450" y1="492" x2="1346" y2="595"/>
</g>
<g>
<circle cx="1346" cy="390" r="2.2" class="d"/><circle cx="1266" cy="492" r="2.2" class="d"/><circle cx="1330" cy="423" r="2.2" class="d"/>
<circle cx="1312" cy="459" r="2.2" class="d"/><circle cx="1365" cy="459" r="2.2" class="d"/><circle cx="1295" cy="492" r="2.2" class="d"/>
<circle cx="1450" cy="492" r="2.2" class="d"/><circle cx="1312" cy="526" r="2.2" class="d"/><circle cx="1365" cy="526" r="2.2" class="d"/>
<circle cx="1330" cy="563" r="2.2" class="d"/><circle cx="1346" cy="595" r="2.2" class="d"/>
</g>
<text x="1336" y="376">木卫一</text><text x="1336" y="383">捕获/逃离</text>
<text x="1327" y="432">木卫一-木卫</text><text x="1327" y="439">二转移轨道</text>
<text x="1318" y="456">木卫二</text><text x="1318" y="463">捕获/逃离</text>
<text x="1369" y="456">木卫一-木卫三</text><text x="1369" y="463">转移轨道</text>
<text x="1237" y="491">地球-木星</text><text x="1237" y="498">转移轨道</text>
<text x="1299" y="489">木卫二-木卫三</text><text x="1299" y="496">转移轨道</text>
<text x="1409" y="491">木卫一-木卫四</text><text x="1409" y="498">转移轨道</text>
<text x="1318" y="524">木卫三</text><text x="1318" y="531">捕获/逃离</text>
<text x="1369" y="528">木卫二-木卫四</text><text x="1369" y="535">转移轨道</text>
<text x="1328" y="550">木卫三-木卫</text><text x="1328" y="557">四转移轨道</text>
<text x="1338" y="603">木卫四</text><text x="1338" y="610">捕获/逃离</text>
<text x="1338" y="417" class="n">0.63</text><text x="1362" y="436" class="n">1.75</text><text x="1407" y="447" class="n">2.94</text>
<text x="1323" y="445" class="n">0.61</text><text x="1276" y="464" class="n">5.72</text><text x="1306" y="478" class="n">0.50</text>
<text x="1352" y="482" class="n">1.12</text><text x="1280" y="488" class="n">4.82</text><text x="1280" y="501" class="n">3.44</text>
<text x="1306" y="511" class="n">0.31</text><text x="1352" y="509" class="n">1.58</text><text x="1275" y="524" class="n">2.88</text>
<text x="1325" y="545" class="n">0.35</text><text x="1362" y="551" class="n">0.90</text><text x="1404" y="545" class="n">1.64</text>
<text x="1338" y="572" class="n">0.29</text>

<!-- ============ LEGEND TEXT ============ -->
<text x="97" y="481" style="font-size:8.5px;font-weight:bold">太阳系ΔV地图</text>
<text x="97" y="493">黑点代表轨道，黑线代表机动</text>
<text x="97" y="500"><tspan style="fill:#4b4bdc">蓝色</tspan>数字 - 从一个节点到下一个节点需要的ΔV，以km/s为单位</text>
<text x="97" y="507"><tspan style="fill:#ee3322">红色</tspan>箭头 - 可能进行大气制动，减少单向ΔV</text>
<text x="97" y="520">轨道倾角变化未被计算</text>
<text x="97" y="533">要找到从地球到另一个星球/卫星和/或回到地球所需的ΔV，请沿着路径加上ΔV</text>
<text x="97" y="540">所有机动都发生在近拱点，以最好地利用奥伯特效应</text>
<text x="97" y="553">对于飞掠或撞击的任务，只需要到达转移轨道的ΔV</text>
<text x="97" y="560">对于轨道任务，需要到达逃离/捕获轨道的ΔV</text>
<text x="97" y="573">着陆和起飞ΔV可能因推力重量比和空气动力学而异</text>
<text x="97" y="580">重力辅助可以降低所需的ΔV</text>
<text x="97" y="587">转移轨道被假定为霍曼转移轨道</text>
<text x="97" y="594">如果使用非常低的推力，例如离子发动机，则将所需的ΔV乘以约1.5</text>
<text x="97" y="606">ΔV主要使用活力公式计算</text>
</svg>
</body></html>
